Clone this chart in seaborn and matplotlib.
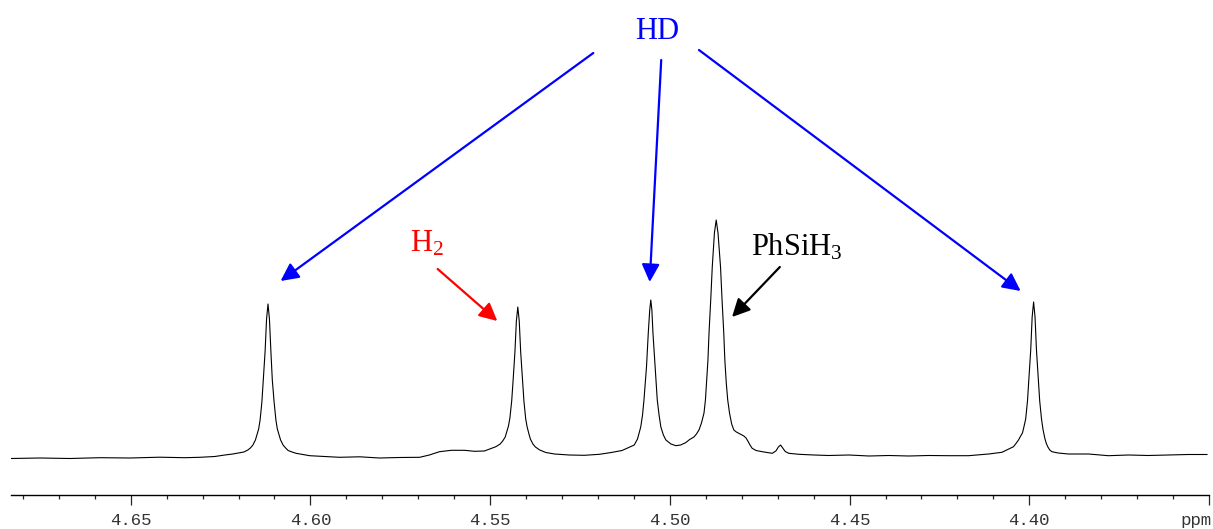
import matplotlib
matplotlib.use("Agg")
import matplotlib.pyplot as plt
import seaborn as sns
import pandas as pd

# 1H NMR trace (ppm, intensity above baseline)
spectrum_ppm = [
    4.6833, 4.6752, 4.6669, 4.6585, 4.6502, 4.6419, 4.6349, 4.6308, 4.6266, 4.6238,
    4.6216, 4.6196, 4.6185, 4.6174, 4.6167, 4.6160, 4.6153, 4.6149, 4.6144, 4.6140,
    4.6135, 4.6131, 4.6126, 4.6122, 4.6118, 4.6114, 4.6110, 4.6106, 4.6101, 4.6096,
    4.6092, 4.6087, 4.6083, 4.6076, 4.6069, 4.6062, 4.6051, 4.6040, 4.6002, 4.5960,
    4.5919, 4.5863, 4.5808, 4.5752, 4.5696, 4.5669, 4.5641, 4.5608, 4.5571, 4.5544,
    4.5516, 4.5484, 4.5472, 4.5465, 4.5458, 4.5454, 4.5449, 4.5445, 4.5440, 4.5436,
    4.5431, 4.5427, 4.5423, 4.5419, 4.5415, 4.5410, 4.5406, 4.5401, 4.5397, 4.5392,
    4.5388, 4.5381, 4.5374, 4.5362, 4.5345, 4.5321, 4.5280, 4.5238, 4.5196, 4.5163,
    4.5133, 4.5099, 4.5090, 4.5081, 4.5076, 4.5072, 4.5065, 4.5060, 4.5056, 4.5053,
    4.5050, 4.5047, 4.5041, 4.5035, 4.5030, 4.5025, 4.5018, 4.5011, 4.4997, 4.4983,
    4.4970, 4.4956, 4.4945, 4.4933, 4.4926, 4.4919, 4.4912, 4.4905, 4.4901, 4.4898,
    4.4894, 4.4891, 4.4886, 4.4882, 4.4876, 4.4871, 4.4866, 4.4859, 4.4855, 4.4850,
    4.4847, 4.4843, 4.4839, 4.4834, 4.4828, 4.4822, 4.4815, 4.4808, 4.4801, 4.4794,
    4.4788, 4.4783, 4.4777, 4.4771, 4.4760, 4.4743, 4.4715, 4.4705, 4.4698, 4.4692,
    4.4686, 4.4679, 4.4669, 4.4641, 4.4599, 4.4558, 4.4502, 4.4446, 4.4391, 4.4335,
    4.4280, 4.4224, 4.4169, 4.4113, 4.4076, 4.4044, 4.4037, 4.4030, 4.4024, 4.4019,
    4.4015, 4.4010, 4.4005, 4.4001, 4.3996, 4.3992, 4.3988, 4.3984, 4.3980, 4.3975,
    4.3971, 4.3966, 4.3962, 4.3957, 4.3953, 4.3949, 4.3943, 4.3937, 4.3920, 4.3891,
    4.3835, 4.3780, 4.3724, 4.3669, 4.3613, 4.3558, 4.3505,
]
spectrum_intensity = [
    -0.5, 0, -0.5, 0.3, 0, 0.8, 0.3, 0.7, 1.5, 3,
    4, 5.3, 6, 8, 10, 13, 18, 23, 29, 38,
    56, 78, 107, 139, 154, 139, 107, 78, 56, 38,
    29, 23, 18, 13, 10, 7.5, 6, 4.7, 2.3, 1.5,
    0.7, 1.2, 0, 0.5, 0.7, 3, 6.3, 7.7, 7.7, 6.7,
    7, 11.3, 14, 17, 21, 26, 32, 40, 57, 78,
    106, 137, 151, 137, 106, 78, 57, 39, 31, 24,
    19, 14, 11, 8, 5.5, 4, 3, 2.7, 3.7, 5.5,
    7.5, 13, 19, 31, 43, 58, 91, 125, 148, 158,
    148, 125, 91, 58, 43, 31, 23, 18, 14, 12.3,
    13, 15.3, 18.5, 21, 24, 28, 35, 45, 58, 75,
    98, 125, 160, 191, 225, 238, 225, 191, 160, 125,
    98, 75, 58, 45, 34, 28, 26, 24.7, 23.5, 22,
    20, 17, 13, 9.7, 7.5, 6.3, 4.7, 7, 11, 13,
    10, 6.5, 4.7, 3.7, 3, 2.5, 3, 2, 2.5, 2,
    2.5, 2.3, 2.3, 4, 5.7, 11.3, 14.5, 18, 22, 25,
    31, 39, 57, 79, 108, 141, 156, 141, 108, 79,
    57, 39, 29, 20, 15, 11.5, 8, 6.3, 5, 4,
    4, 2.3, 3, 2.5, 3, 3.5, 3.5,
]

tick_values = [4.65, 4.60, 4.55, 4.50, 4.45, 4.40]
tick_labels = ["4.65", "4.60", "4.55", "4.50", "4.45", "4.40"]

# annotations: label, text anchor, arrow tails and tips (ppm, intensity)
hd_label_pos = (4.5034, 419)
hd_tails = [(4.5213, 405), (4.5024, 398), (4.4919, 408)]
hd_tips = [(4.6083, 177), (4.5056, 176), (4.4024, 167)]
h2_label_pos = (4.5677, 206)
h2_arrow = [(4.5646, 189), (4.5480, 137)]
silane_label_pos = (4.4775, 202)
silane_arrow = [(4.4694, 191), (4.4827, 141)]

sns.set_style("white")
plt.rcParams["mathtext.fontset"] = "custom"
plt.rcParams["mathtext.rm"] = "Liberation Serif"
plt.rcParams["mathtext.it"] = "Liberation Serif:italic"

df = pd.DataFrame({"ppm": spectrum_ppm, "intensity": spectrum_intensity})

fig = plt.figure(figsize=(12.13, 5.29), dpi=100)
ax = fig.add_axes([11 / 1213, 34 / 529, 1198 / 1213, 495 / 529])

sns.lineplot(data=df, x="ppm", y="intensity", sort=False, estimator=None,
             color="black", lw=0.8, ax=ax)

ax.set_xlim(4.6833, 4.3505)
ax.set_ylim(-37, 458)

for s in ["top", "left", "right"]:
    ax.spines[s].set_visible(False)
ax.spines["bottom"].set_linewidth(1.0)
ax.spines["bottom"].set_color("black")
ax.set_yticks([])
ax.set_ylabel("")
ax.set_xlabel("")

ax.set_xticks(tick_values + [4.35])
ax.set_xticklabels(tick_labels + [""], family="Liberation Mono", fontsize=12.5, color="#333333")
ax.set_xticks([4.68 - 0.01 * i for i in range(34)], minor=True)
ax.tick_params(axis="x", which="major", direction="out", length=7.5, width=0.9, pad=5.5, bottom=True)
ax.tick_params(axis="x", which="minor", direction="out", length=3, width=0.9, bottom=True)

fig.text(1196 / 1213, 3.5 / 529, "ppm", ha="center", va="baseline",
         family="Liberation Mono", fontsize=12.5, color="#333333")

serif = "Liberation Serif"
head = dict(arrowstyle="-|>,head_length=0.6,head_width=0.3", mutation_scale=18,
            shrinkA=0, shrinkB=0, lw=1.6)

ax.text(*hd_label_pos, "HD", color="blue", family=serif, fontsize=22,
        ha="center", va="baseline")
for tail, tip in zip(hd_tails, hd_tips):
    ax.annotate("", xy=tip, xytext=tail, arrowprops=dict(color="blue", **head))

ax.text(*h2_label_pos, "H$_2$", color="red", family=serif, fontsize=22,
        ha="center", va="baseline")
ax.annotate("", xy=h2_arrow[1], xytext=h2_arrow[0], arrowprops=dict(color="red", **head))

ax.text(*silane_label_pos, "PhSiH$_3$", color="black", family=serif, fontsize=22,
        ha="left", va="baseline")
ax.annotate("", xy=silane_arrow[1], xytext=silane_arrow[0],
            arrowprops=dict(color="black", **head))

fig.savefig("out.png", dpi=100)
